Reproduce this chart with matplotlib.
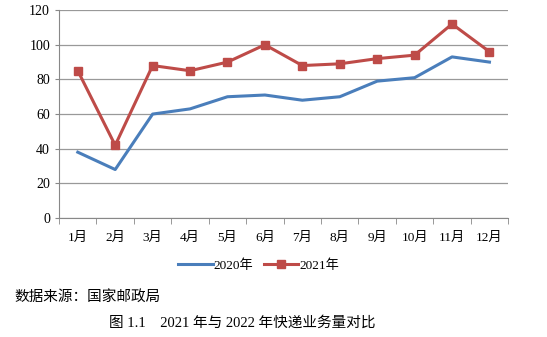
import numpy as np
import matplotlib.pyplot as plt

plt.rcParams['font.family'] = ['Liberation Serif', 'Noto Sans CJK SC']

months = ["1月", "2月", "3月", "4月", "5月", "6月", "7月", "8月", "9月", "10月", "11月", "12月"]
vol_2020 = [38, 28, 60, 63, 70, 71, 68, 70, 79, 81, 93, 90]
vol_2021 = [85, 42, 88, 85, 90, 100, 88, 89, 92, 94, 112, 96]

fig = plt.figure(figsize=(5.47, 3.37), dpi=100)
ax = fig.add_axes([0.108, 0.353, 0.821, 0.617])

x = np.arange(len(months))
ax.plot(x, vol_2020, color="#4A7EBB", lw=2.2, label="2020年")
ax.plot(x, vol_2021, color="#BE4B48", lw=2.2, marker="s", ms=6, label="2021年")

ax.set_xlim(-0.5, len(months) - 0.5)
ax.set_ylim(0, 120)
ax.set_yticks(range(0, 121, 20))
ax.set_xticks(x)
ax.set_xticklabels(months)
ax.set_xticks(np.arange(-0.5, len(months), 1), minor=True)
ax.tick_params(axis="x", which="major", length=0, labelsize=9.5, pad=10)
ax.tick_params(axis="x", which="minor", length=4, color="#888888")
ax.tick_params(axis="y", length=3, color="#888888", labelsize=10)
ax.grid(axis="y", color="#999999", lw=0.9)
ax.set_axisbelow(True)
for s in ["top", "right"]:
    ax.spines[s].set_visible(False)
for s in ["left", "bottom"]:
    ax.spines[s].set_color("#888888")

ax.legend(loc="upper center", bbox_to_anchor=(0.445, -0.14), ncol=2, frameon=False,
          fontsize=9.5, handlelength=2.6, columnspacing=0.8, handletextpad=0.1)

fig.text(0.027, 0.118, "数据来源：国家邮政局", fontsize=10.5, va="center")
fig.text(0.442, 0.042, "图 1.1    2021 年与 2022 年快递业务量对比", fontsize=10.5, ha="center", va="center")

fig.savefig("out.png", dpi=100)
